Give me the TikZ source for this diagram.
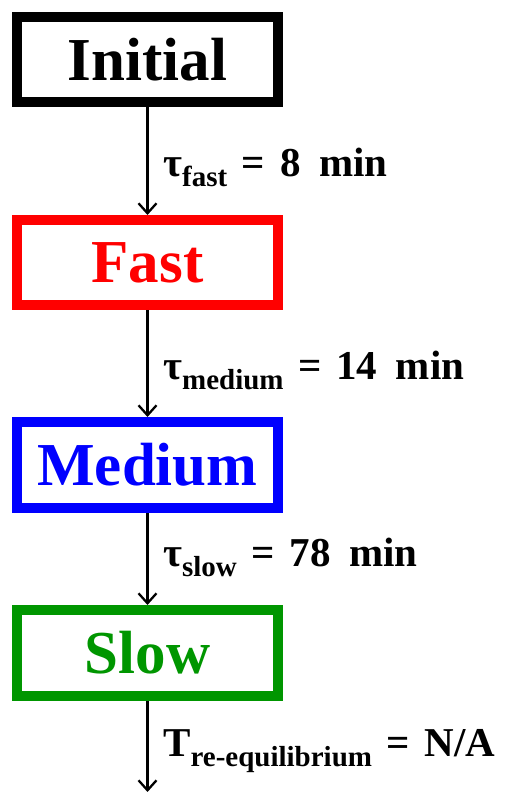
\documentclass[tikz,border=0pt]{standalone}
\usepackage{fontspec}
\setmainfont{Liberation Serif}
\usetikzlibrary{arrows.meta}
\definecolor{fastred}{RGB}{255,0,0}
\definecolor{medblue}{RGB}{0,0,255}
\definecolor{slowgreen}{RGB}{0,150,0}
\newcommand\subtxt[1]{\raisebox{-10pt}{\fontsize{29}{29}\selectfont #1}}
\newcommand\eqgap{\hspace{0.36em}=\hspace{0.36em}}
\newcommand\unitgap{\hspace{0.45em}}
\begin{document}
\begin{tikzpicture}[x=1pt,y=1pt,
  stage/.style={draw, line width=10pt, minimum width=261pt, minimum height=85pt,
    inner sep=0pt, font=\fontsize{61}{61}\selectfont\bfseries, fill=white},
  flow/.style={line width=2.3pt, -{Straight Barb[length=10pt,width=18pt]}},
  rate/.style={anchor=base west, inner sep=0pt, font=\fontsize{41}{41}\selectfont\bfseries}]
\useasboundingbox (0,0) rectangle (505,792);
\node[stage, draw=black, text=black] (init) at (147.5,732.5) {Initial};
\node[stage, draw=fastred, text=fastred] (fast) at (147.5,529.5) {Fast};
\node[stage, draw=medblue, text=medblue, minimum height=86pt] (med) at (147.5,327) {Medium};
\node[stage, draw=slowgreen, text=slowgreen, minimum height=86pt] (slow) at (147.5,139) {Slow};
\coordinate (end) at (147.5,0);
\draw[flow] (init) -- (fast);
\draw[flow] (fast) -- (med);
\draw[flow] (med) -- (slow);
\draw[flow] (slow) -- (end);
\node[rate] (l1) at (163,615) {τ\subtxt{fast}\eqgap 8\unitgap min};
\node[rate] (l2) at (163,412) {τ\subtxt{medium}\eqgap 14\unitgap min};
\node[rate] (l3) at (163,225) {τ\subtxt{slow}\eqgap 78\unitgap min};
\node[rate] (l4) at (163,35) {T\subtxt{re-equilibrium}\eqgap N/A};
\end{tikzpicture}
\end{document}
